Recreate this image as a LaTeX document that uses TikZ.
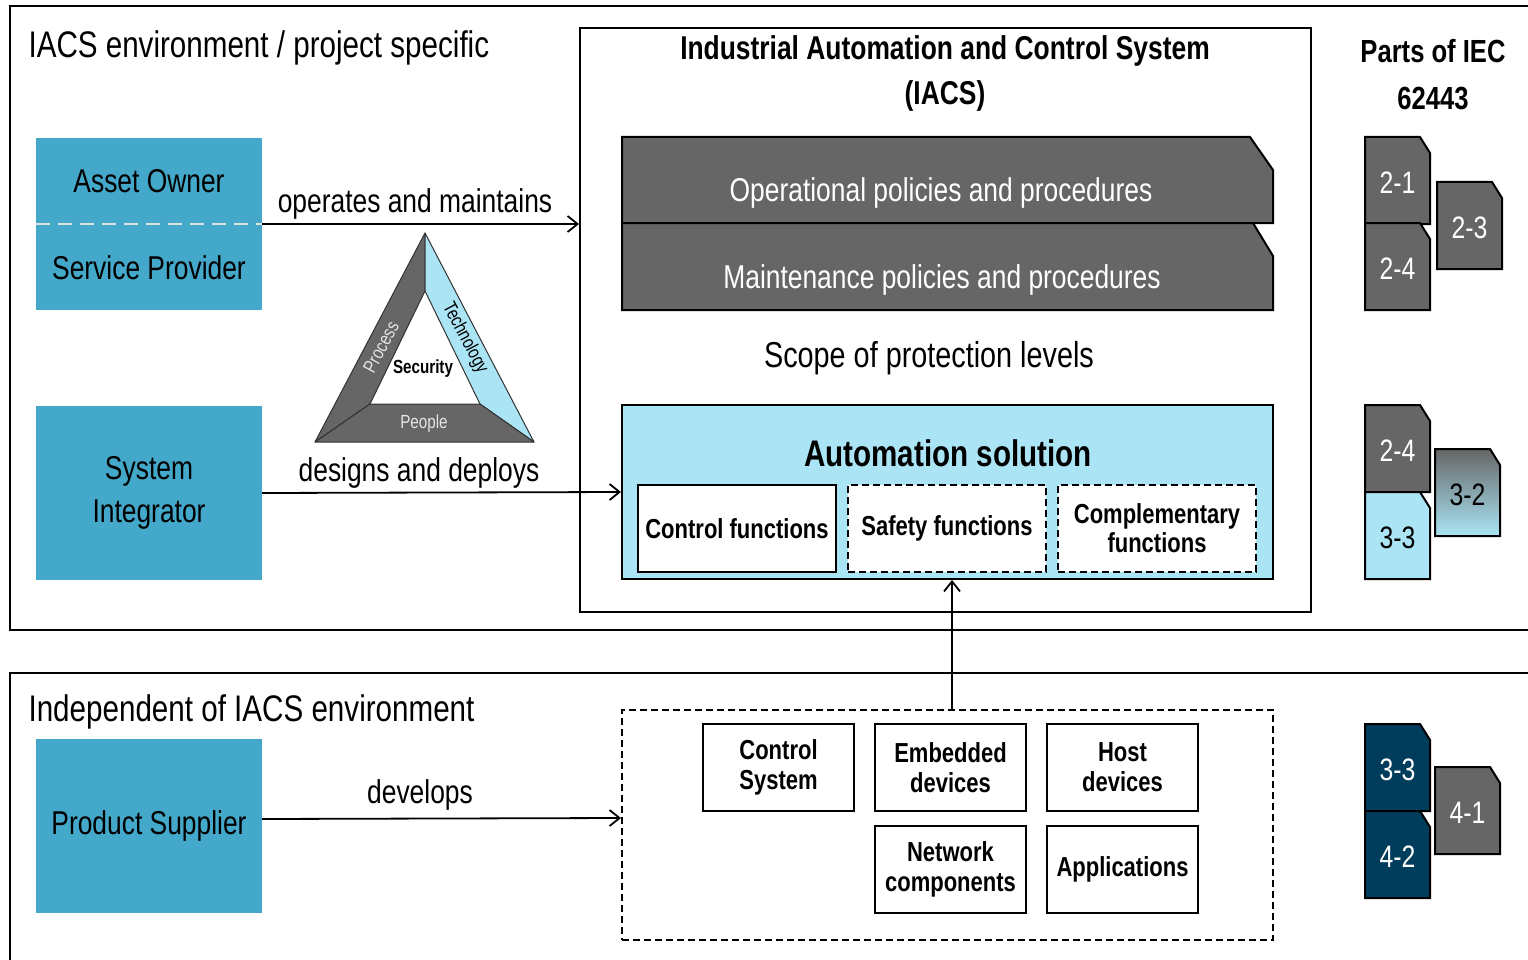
\documentclass[tikz,border=0pt]{standalone}
\usepackage{fontspec}
\setmainfont[FakeStretch=0.8]{Liberation Sans}
\usepackage{tikz}
\usetikzlibrary{positioning,calc,arrows.meta}

\definecolor{actorblue}{HTML}{43A8CA}
\definecolor{docgray}{HTML}{666666}
\definecolor{skyblue}{HTML}{AAE4F5}
\definecolor{navy}{HTML}{003D5C}

\newcommand{\fsz}[2]{\fontsize{#1}{#2}\selectfont}

% one part of the standard: sheet with a clipped corner
\newcommand{\partdoc}[5]{%
  \path[#3, draw=black, line width=2pt] (#2) -- ++(55,0) -- ++(10,16) -- ++(0,71) -- ++(-65,0) -- cycle;
  \node[part, text=#4] (#1) at ($(#2)+(32.5,46)$) {#5};
}

\begin{document}
\begin{tikzpicture}[
        x=1pt, y=-1pt,
        >={Straight Barb[length=10pt,width=16pt]},
        envframe/.style={line width=2pt},
        heading/.style={anchor=base west, font=\fsz{37}{42}},
        actor/.style={rectangle, fill=actorblue, minimum width=226pt, minimum height=174pt, align=center, font=\fsz{33}{43}},
        actortext/.style={font=\fsz{33}{38}},
        divider/.style={draw=gray!25, line width=2pt, dash pattern=on 14pt off 8pt},
        relation/.style={anchor=base, font=\fsz{33}{38}},
        box/.style={rectangle, draw=black, line width=2pt},
        dashbox/.style={dash pattern=on 7pt off 4pt},
        band/.style={fill=docgray, draw=black, line width=2pt},
        bandtext/.style={anchor=base, text=white, font=\fsz{33}{38}},
        func/.style={box, fill=white, minimum width=198pt, minimum height=87pt, align=center, font=\bfseries\fsz{27.5}{29}},
        comp/.style={box, fill=white, minimum width=151pt, minimum height=87pt, align=center, font=\bfseries\fsz{27.5}{30}},
        side/.style={draw=black!80, line width=1pt, line join=round},
        part/.style={font=\fsz{31}{32}},
        flow/.style={->, line width=1.8pt}
      ]
        \useasboundingbox (0,0) rectangle (1528,960);

        % the two environments
        \draw[envframe] (1545,6) -- (10,6) -- (10,630) -- (1545,630);
        \draw[envframe] (1545,673) -- (10,673) -- (10,975);
        \node[heading] (envtitle) at (25,58)  {IACS environment / project specific};
        \node[heading] (indtitle) at (25,721) {Independent of IACS environment};

        % roles
        \node[actor, minimum height=172pt]  (asset)      at (149,224) {};
        \node[actortext]                    (owner)      at (149,181) {Asset Owner};
        \node[actortext]                    (provider)   at (149,268) {Service Provider};
        \draw[divider] (asset.west) -- (asset.east);
        \node[actor]                        (integrator) at (149,493) {System\\Integrator};
        \node[actor]                        (supplier)   at (149,826) {Product Supplier};

        % the IACS
        \node[box, minimum width=731pt, minimum height=584pt] (iacs) at (945.5,320) {};
        \node[align=center, font=\bfseries\fsz{33}{45}] (iacstitle) at (945,73) {Industrial Automation and Control System\\(IACS)};

        \draw[band] (622,137) -- (1250,137) -- (1273,170) -- (1273,223) -- (622,223) -- cycle;
        \node[bandtext] (oper)  at (941,202) {Operational policies and procedures};
        \draw[band] (622,223) -- (1253,223) -- (1273,256) -- (1273,310) -- (622,310) -- cycle;
        \node[bandtext] (maint) at (942,288) {Maintenance policies and procedures};
        \node[relation, font=\fsz{36}{40}] (scope) at (929,367) {Scope of protection levels};

        \node[box, fill=skyblue, minimum width=651pt, minimum height=174pt] (auto) at (947.5,492) {};
        \node[relation, font=\bfseries\fsz{37}{42}] (autotitle) at (948,466) {Automation solution};
        \node[func]          (ctrlfn) at (737,528.5)  {Control functions};
        \node[func, dashbox] (safefn) at (947,528.5)  {Safety functions};
        \node[func, dashbox] (compfn) at (1157,528.5) {Complementary\\functions};

        % products
        \node[box, dashbox, minimum width=651pt, minimum height=230pt] (devices) at (947.5,825) {};
        \node[comp] (ctrlsys)  at (778.5,767.5)  {Control\\System};
        \node[comp] (embedded) at (950.5,767.5)  {Embedded\\devices};
        \node[comp] (host)     at (1122.5,767.5) {Host\\devices};
        \node[comp] (network)  at (950.5,869.5)  {Network\\components};
        \node[comp] (apps)     at (1122.5,869.5) {Applications};

        % security triangle
        \coordinate (apex)  at (425,233);
        \coordinate (bl)    at (315,442);
        \coordinate (br)    at (534,442);
        \coordinate (iapex) at (425,291);
        \coordinate (ibl)   at (370,404);
        \coordinate (ibr)   at (480,404);
        \filldraw[side, fill=docgray] (apex) -- (iapex) -- (ibl) -- (bl) -- cycle;
        \filldraw[side, fill=skyblue] (apex) -- (br) -- (ibr) -- (iapex) -- cycle;
        \filldraw[side, fill=docgray] (bl) -- (br) -- (ibr) -- (ibl) -- cycle;
        \node[font=\fsz{19}{20}, text=gray!20, rotate=62]  (process)  at (381,347) {Process};
        \node[font=\fsz{19}{20}, rotate=-62]               (techno)   at (465,338) {Technology};
        \node[font=\fsz{19}{20}, text=gray!20]             (people)   at (424,424) {People};
        \node[font=\bfseries\fsz{19}{20}]                  (security) at (423,369) {Security};

        % who does what
        \draw[flow] (asset.east) -- (asset.east -| iacs.west);
        \node[relation] (opslbl) at (415,213) {operates and maintains};
        \draw[flow] (integrator.east) -- (auto.west);
        \node[relation] (deplbl) at (419,481) {designs and deploys};
        \draw[flow] ([yshift=7pt]supplier.east) -- ([yshift=7pt]devices.west);
        \node[relation] (devlbl) at (420,803) {develops};
        \draw[flow] ([xshift=4.5pt]devices.north) -- ([xshift=4.5pt]auto.south);

        % parts of the standard
        \node[align=center, font=\bfseries\fsz{32}{47}] (parts) at (1433,75) {Parts of IEC\\62443};
        \partdoc{p21}{1365,137}{fill=docgray}{white}{2-1}
        \partdoc{p24}{1365,223}{fill=docgray}{white}{2-4}
        \partdoc{p23}{1437,182}{fill=docgray}{white}{2-3}
        \partdoc{q24}{1365,405}{fill=docgray}{white}{2-4}
        \partdoc{q33}{1365,492}{fill=skyblue}{black}{3-3}
        \partdoc{q32}{1435,449}{top color=docgray, bottom color=skyblue}{black}{3-2}
        \partdoc{r33}{1365,724}{fill=navy}{white}{3-3}
        \partdoc{r42}{1365,811}{fill=navy}{white}{4-2}
        \partdoc{r41}{1435,767}{fill=docgray}{white}{4-1}
      \end{tikzpicture}
\end{document}
